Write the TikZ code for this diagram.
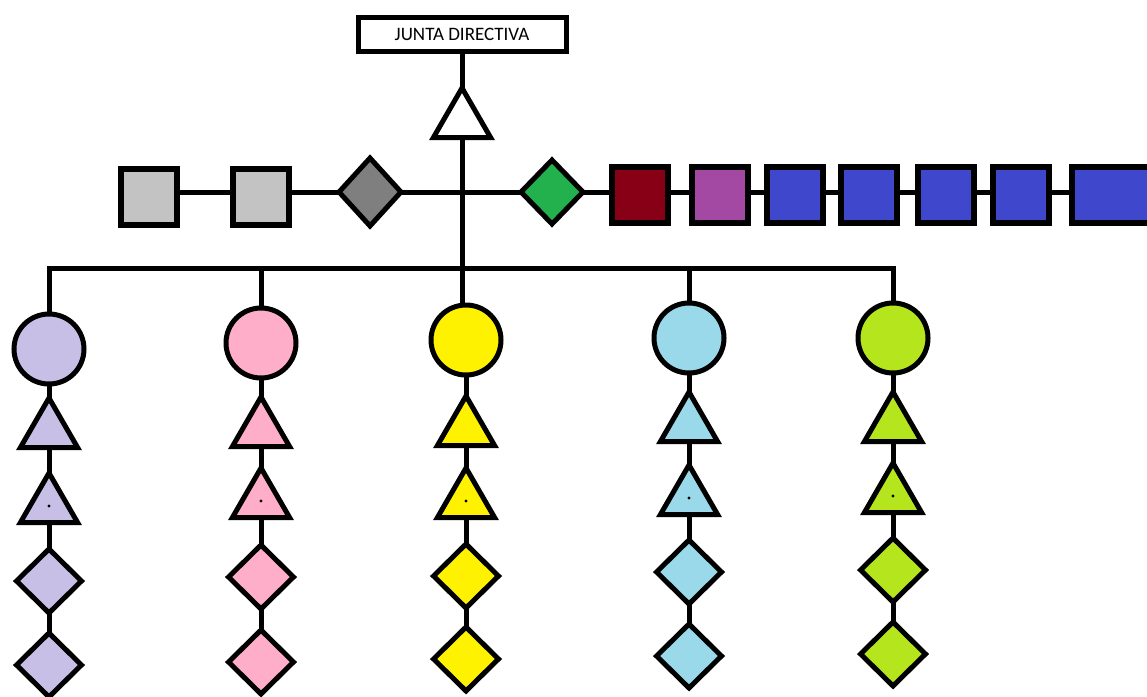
\documentclass[tikz,border=0pt]{standalone}
\usepackage{fontspec}
\setmainfont{Carlito}
\usetikzlibrary{shapes.geometric, backgrounds}
\definecolor{lila}{HTML}{C8BFE7}
\definecolor{rosa}{HTML}{FFAEC9}
\definecolor{amarillo}{HTML}{FFF200}
\definecolor{celeste}{HTML}{99D9EA}
\definecolor{lima}{HTML}{B5E61D}
\definecolor{grisclaro}{HTML}{C3C3C3}
\definecolor{grisoscuro}{HTML}{7F7F7F}
\definecolor{verde}{HTML}{22B14C}
\definecolor{granate}{HTML}{880015}
\definecolor{morado}{HTML}{A349A4}
\definecolor{indigo}{HTML}{3F48CC}
\tikzset{
    junta/.style={draw, fill=white, line width=5pt, inner sep=0pt, minimum width=208pt, minimum height=34pt, font=\fontsize{19}{19}\selectfont},
    cuadro/.style={draw, line width=6pt, minimum size=56pt, inner sep=0pt},
    rombo/.style={diamond, draw, line width=5pt, minimum width=67pt, minimum height=66pt, inner sep=0pt},
    triang/.style={regular polygon, regular polygon sides=3, draw, line width=5pt, minimum size=66pt, inner sep=0pt},
    bola/.style={circle, draw, line width=5pt, minimum size=70pt, inner sep=0pt},
    enlace/.style={line width=5pt}
}
\begin{document}
\begin{tikzpicture}[x=1pt, y=-1pt]
\useasboundingbox (0,0) rectangle (1147,696);

% Junta directiva
\node[junta] (jd) at (462,34) {JUNTA DIRECTIVA};
\node[triang, fill=white] (jt) at (462,121) {};

% Fila horizontal
\node[cuadro, fill=grisclaro] (g1) at (149,197) {};
\node[cuadro, fill=grisclaro] (g2) at (261,197) {};
\node[rombo, fill=grisoscuro, minimum width=64pt, minimum height=70pt] (gr) at (370,192) {};
\node[rombo, fill=verde, minimum width=64pt, minimum height=66pt] (ve) at (552,192) {};
\node[cuadro, fill=granate] (r1) at (640,195) {};
\node[cuadro, fill=morado] (r2) at (720,195) {};
\node[cuadro, fill=indigo] (r3) at (795,195) {};
\node[cuadro, fill=indigo] (r4) at (869,195) {};
\node[cuadro, fill=indigo] (r5) at (946,195) {};
\node[cuadro, fill=indigo] (r6) at (1021,195) {};
\node[cuadro, fill=indigo, minimum width=100pt] (r7) at (1122,195) {};

% Columnas
\foreach \i/\x/\cy/\ta/\tb/\da/\db/\col in {1/49/349/431/506/581/665/lila, 2/261/343/430/501/577/662/rosa, 3/466/340/429/501/576/659/amarillo, 4/689/338/425/498/572/656/celeste, 5/893/338/425/496/570/654/lima}
{
    \node[bola, fill=\col] (c\i) at (\x,\cy) {};
    \node[triang, fill=\col] (ta\i) at (\x,\ta) {};
    \node[triang, fill=\col] (tb\i) at (\x,\tb) {};
    \fill (tb\i.center) circle (1.6pt);
    \node[rombo, fill=\col] (da\i) at (\x,\da) {};
    \node[rombo, fill=\col] (db\i) at (\x,\db) {};
}

\begin{scope}[on background layer]
\fill[white] (0,0) rectangle (1147,696);
% enlaces
\draw[enlace] (jd.center) -- (jt.center);
\foreach \a/\b in {g1/g2, g2/gr, gr/ve, ve/r1, r1/r2, r2/r3, r3/r4, r4/r5, r5/r6, r6/r7}
    \draw[enlace] (\a.center |- ve.center) -- (\b.center |- ve.center);
\foreach \i in {1,...,5}
    \draw[enlace] (c\i.center) -- (ta\i.center) -- (tb\i.center) -- (da\i.center) -- (db\i.center);
% tronco y barra
\coordinate (barra) at (462,268);
\draw[enlace] (jt.center) -- (jt.center |- c3.center);
\draw[enlace] (c1.center) |- (barra) -| (c5.center);
\draw[enlace] (c2.center) -- (c2.center |- barra);
\draw[enlace] (c4.center) -- (c4.center |- barra);
\end{scope}
\end{tikzpicture}
\end{document}
